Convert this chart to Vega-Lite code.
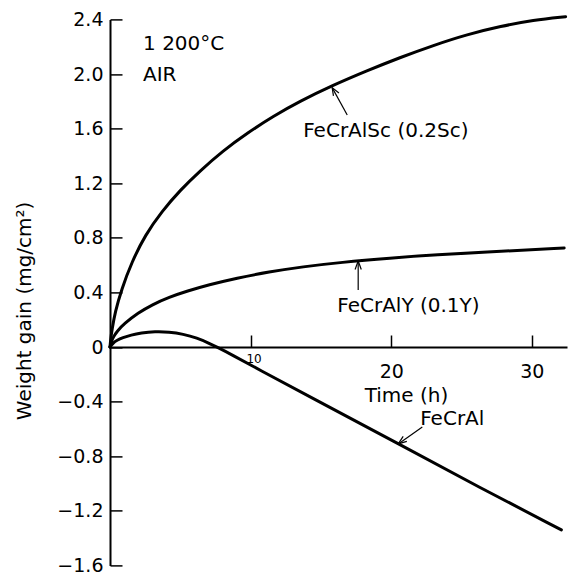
{
  "$schema": "https://vega.github.io/schema/vega-lite/v6.json",
  "width": 457,
  "height": 546,
  "autosize": {"type": "none"},
  "padding": {"left": 110, "top": 19.4, "right": 5, "bottom": 10.6},
  "background": "white",
  "config": {"view": {"stroke": null}, "font": "DejaVu Sans"},
  "datasets": {
    "curves": [
      {"series": "FeCrAlSc", "t": 0, "v": 0},
      {"series": "FeCrAlSc", "t": 0.05, "v": 0.06},
      {"series": "FeCrAlSc", "t": 0.15, "v": 0.13},
      {"series": "FeCrAlSc", "t": 0.36, "v": 0.255},
      {"series": "FeCrAlSc", "t": 0.83, "v": 0.425},
      {"series": "FeCrAlSc", "t": 1.54, "v": 0.62},
      {"series": "FeCrAlSc", "t": 2.5, "v": 0.82},
      {"series": "FeCrAlSc", "t": 3.7, "v": 0.995},
      {"series": "FeCrAlSc", "t": 5.0, "v": 1.15},
      {"series": "FeCrAlSc", "t": 6.4, "v": 1.29},
      {"series": "FeCrAlSc", "t": 8.0, "v": 1.435},
      {"series": "FeCrAlSc", "t": 9.8, "v": 1.57},
      {"series": "FeCrAlSc", "t": 11.6, "v": 1.69},
      {"series": "FeCrAlSc", "t": 13.5, "v": 1.8},
      {"series": "FeCrAlSc", "t": 15.8, "v": 1.915},
      {"series": "FeCrAlSc", "t": 18.3, "v": 2.025},
      {"series": "FeCrAlSc", "t": 20.6, "v": 2.12},
      {"series": "FeCrAlSc", "t": 23.0, "v": 2.21},
      {"series": "FeCrAlSc", "t": 25.4, "v": 2.29},
      {"series": "FeCrAlSc", "t": 27.8, "v": 2.35},
      {"series": "FeCrAlSc", "t": 30.1, "v": 2.395},
      {"series": "FeCrAlSc", "t": 32.4, "v": 2.42},
      {"series": "FeCrAlY", "t": 0, "v": 0},
      {"series": "FeCrAlY", "t": 0.1, "v": 0.04},
      {"series": "FeCrAlY", "t": 0.25, "v": 0.075},
      {"series": "FeCrAlY", "t": 0.5, "v": 0.115},
      {"series": "FeCrAlY", "t": 1.0, "v": 0.17},
      {"series": "FeCrAlY", "t": 2.0, "v": 0.25},
      {"series": "FeCrAlY", "t": 3.0, "v": 0.31},
      {"series": "FeCrAlY", "t": 4.2, "v": 0.365},
      {"series": "FeCrAlY", "t": 5.5, "v": 0.41},
      {"series": "FeCrAlY", "t": 7.0, "v": 0.455},
      {"series": "FeCrAlY", "t": 9.0, "v": 0.505},
      {"series": "FeCrAlY", "t": 11.3, "v": 0.55},
      {"series": "FeCrAlY", "t": 13.7, "v": 0.588},
      {"series": "FeCrAlY", "t": 16.4, "v": 0.62},
      {"series": "FeCrAlY", "t": 20.0, "v": 0.652},
      {"series": "FeCrAlY", "t": 23.0, "v": 0.674},
      {"series": "FeCrAlY", "t": 27.9, "v": 0.702},
      {"series": "FeCrAlY", "t": 32.3, "v": 0.725},
      {"series": "FeCrAl", "t": 0, "v": 0},
      {"series": "FeCrAl", "t": 0.2, "v": 0.028},
      {"series": "FeCrAl", "t": 0.5, "v": 0.05},
      {"series": "FeCrAl", "t": 0.9, "v": 0.068},
      {"series": "FeCrAl", "t": 1.5, "v": 0.088},
      {"series": "FeCrAl", "t": 2.2, "v": 0.103},
      {"series": "FeCrAl", "t": 3.2, "v": 0.113},
      {"series": "FeCrAl", "t": 4.2, "v": 0.11},
      {"series": "FeCrAl", "t": 5.2, "v": 0.095},
      {"series": "FeCrAl", "t": 6.2, "v": 0.066},
      {"series": "FeCrAl", "t": 7.0, "v": 0.03},
      {"series": "FeCrAl", "t": 7.6, "v": 0.0},
      {"series": "FeCrAl", "t": 8.7, "v": -0.058},
      {"series": "FeCrAl", "t": 10.4, "v": -0.155},
      {"series": "FeCrAl", "t": 14.4, "v": -0.375},
      {"series": "FeCrAl", "t": 20.4, "v": -0.703},
      {"series": "FeCrAl", "t": 26.3, "v": -1.03},
      {"series": "FeCrAl", "t": 32.1, "v": -1.34}
    ],
    "labels": [
      {"label": "1 200°C", "t": 2.35, "v": 2.22},
      {"label": "AIR", "t": 2.35, "v": 1.99},
      {"label": "FeCrAlSc (0.2Sc)", "t": 13.74, "v": 1.58},
      {"label": "FeCrAlY (0.1Y)", "t": 16.16, "v": 0.3},
      {"label": "FeCrAl", "t": 22.06, "v": -0.53}
    ],
    "arrows": [
      {"t": 16.87, "v": 1.7, "t2": 15.8, "v2": 1.9},
      {"t": 15.89, "v": 1.84, "t2": 15.8, "v2": 1.9},
      {"t": 16.28, "v": 1.861, "t2": 15.8, "v2": 1.9},
      {"t": 17.65, "v": 0.418, "t2": 17.65, "v2": 0.63},
      {"t": 17.43, "v": 0.568, "t2": 17.65, "v2": 0.63},
      {"t": 17.87, "v": 0.568, "t2": 17.65, "v2": 0.63},
      {"t": 22.21, "v": -0.586, "t2": 20.5, "v2": -0.71},
      {"t": 21.11, "v": -0.691, "t2": 20.5, "v2": -0.71},
      {"t": 20.85, "v": -0.655, "t2": 20.5, "v2": -0.71}
    ]
  },
  "layer": [
    {
      "data": {"name": "curves"},
      "mark": {"type": "line", "color": "black", "strokeWidth": 3, "interpolate": "basis", "strokeCap": "round"},
      "encoding": {
        "x": {
          "field": "t", "type": "quantitative",
          "scale": {"domain": [0, 32.5], "nice": false, "zero": false},
          "axis": {
            "orient": "bottom",
            "offset": -218.4,
            "values": [10, 20, 30],
            "grid": false,
            "domainColor": "black",
            "domainWidth": 2,
            "tickColor": "black",
            "tickWidth": 1.5,
            "tickSize": -12,
            "labelFlush": false,
            "labelOverlap": false,
            "labelColor": "black",
            "labelFont": "DejaVu Sans",
            "labelBaseline": "top",
            "labelFontSize": {"condition": {"test": "datum.value == 10", "value": 12}, "value": 19},
            "labelPadding": {"condition": {"test": "datum.value == 10", "value": 18}, "value": 27},
            "labelOffset": {"condition": {"test": "datum.value == 10", "value": 3}, "value": 0},
            "title": "Time (h)",
            "titleFont": "DejaVu Sans",
            "titleFontSize": 20,
            "titleFontWeight": "normal",
            "titleColor": "black",
            "titleX": 296,
            "titleY": 48,
            "titleAlign": "center",
            "titleBaseline": "middle"
          }
        },
        "y": {
          "field": "v", "type": "quantitative",
          "scale": {"domain": [-1.6, 2.4], "nice": false, "zero": false},
          "axis": {
            "orient": "left",
            "values": [-1.6, -1.2, -0.8, -0.4, 0, 0.4, 0.8, 1.2, 1.6, 2.0, 2.4],
            "labelExpr": "datum.value == 0 ? '0' : format(datum.value, '.1f')",
            "grid": false,
            "domainColor": "black",
            "domainWidth": 2,
            "tickColor": "black",
            "tickWidth": 1.5,
            "tickSize": -12,
            "labelPadding": 19,
            "labelFlush": false,
            "labelOverlap": false,
            "labelColor": "black",
            "labelFont": "DejaVu Sans",
            "labelFontSize": 19,
            "title": "Weight gain (mg/cm²)",
            "titleFont": "DejaVu Sans",
            "titleFontSize": 20,
            "titleFontWeight": "normal",
            "titleColor": "black",
            "titleAngle": -90,
            "titleX": -86,
            "titleY": 291,
            "titleAlign": "center",
            "titleBaseline": "middle"
          }
        },
        "detail": {"field": "series", "type": "nominal"}
      }
    },
    {
      "data": {"name": "arrows"},
      "mark": {"type": "rule", "color": "black", "strokeWidth": 1.2},
      "encoding": {
        "x": {"field": "t", "type": "quantitative"},
        "y": {"field": "v", "type": "quantitative"},
        "x2": {"field": "t2"},
        "y2": {"field": "v2"}
      }
    },
    {
      "data": {"name": "labels"},
      "mark": {"type": "text", "align": "left", "baseline": "middle", "fontSize": 20, "font": "DejaVu Sans", "color": "black"},
      "encoding": {
        "x": {"field": "t", "type": "quantitative"},
        "y": {"field": "v", "type": "quantitative"},
        "text": {"field": "label", "type": "nominal"}
      }
    }
  ]
}
